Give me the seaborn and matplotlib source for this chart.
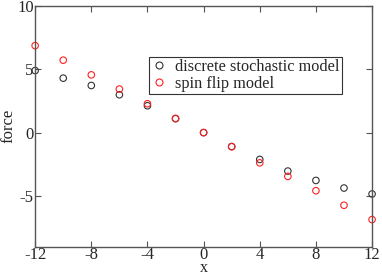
import numpy as np
import pandas as pd
import seaborn as sns
import matplotlib.pyplot as plt
from matplotlib.lines import Line2D

x = [-12, -10, -8, -6, -4, -2, 0, 2, 4, 6, 8, 10, 12]
discrete = [4.9, 4.3, 3.72, 2.99, 2.12, 1.1, 0.0, -1.1, -2.12, -3.04, -3.78, -4.38, -4.85]
spin_flip = [6.87, 5.72, 4.56, 3.44, 2.28, 1.12, 0.0, -1.12, -2.39, -3.46, -4.59, -5.74, -6.87]
labels = ['discrete stochastic model', 'spin flip model']
colors = ['#333333', '#ff2020']

df = pd.DataFrame({
    'x': x * 2,
    'force': discrete + spin_flip,
    'model': [labels[0]] * len(x) + [labels[1]] * len(x),
})

sns.set_style('ticks')
plt.rcParams['font.family'] = ['Liberation Serif', 'DejaVu Serif']

fig, ax = plt.subplots(figsize=(3.82, 2.73), dpi=100)
fig.subplots_adjust(left=0.092, right=0.974, top=0.978, bottom=0.097)

sns.scatterplot(data=df, x='x', y='force', hue='model',
                palette=dict(zip(labels, colors)),
                marker='o', s=22, ax=ax, legend=False, clip_on=False)
# open circles
pts = ax.collections[0]
pts.set_facecolor('none')
pts.set_edgecolor([colors[labels.index(m)] for m in df['model']])
pts.set_linewidth(0.8)

ax.set_xlim(-12, 12)
ax.set_ylim(-9, 10)
ax.set_xticks([-12, -8, -4, 0, 4, 8, 12])
ax.set_yticks([-5, 0, 5, 10])
ax.set_xticklabels(['-12', '-8', '-4', '0', '4', '8', '12'])
ax.set_yticklabels(['-5', '0', '5', '10'])
ax.tick_params(direction='in', top=True, right=True, length=4, width=0.8,
               color='#555555', labelsize=12, pad=1)
ax.tick_params(axis='x', pad=0.5)
for sp in ax.spines.values():
    sp.set_color('#555555')
    sp.set_linewidth(1.0)
    sp.set_visible(True)
ax.set_xlabel('x', fontsize=11.5)
ax.set_ylabel('force', fontsize=12)
ax.xaxis.set_label_coords(0.5, -0.055)
ax.yaxis.set_label_coords(-0.056, 0.5)

handles = [Line2D([], [], ls='none', marker='o', mfc='none', mec=c, ms=5, mew=0.8)
           for c in colors]
leg = ax.legend(handles, labels,
                loc='upper left', bbox_to_anchor=(0.338, 0.788), fontsize=11.7,
                frameon=True, fancybox=False, framealpha=1, edgecolor='#333333',
                handlelength=1.0, handletextpad=0.5, borderpad=0.12, labelspacing=0.05,
                borderaxespad=0)
leg.get_frame().set_linewidth(0.8)

fig.savefig('out.png', dpi=100)
